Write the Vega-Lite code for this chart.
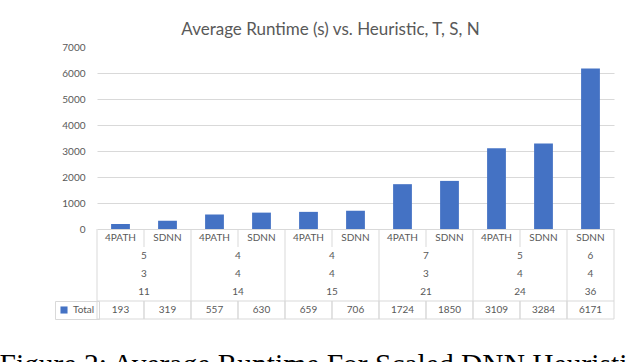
{
  "$schema": "https://vega.github.io/schema/vega-lite/v6.json",
  "width": 517,
  "height": 272,
  "autosize": {"type": "none"},
  "padding": {"left": 97, "top": 47, "right": 14, "bottom": 43},
  "background": "white",
  "title": {"text": "Average Runtime (s) vs. Heuristic, T, S, N", "font": "Lato", "fontSize": 17, "fontWeight": "normal", "color": "#595959", "anchor": "middle", "frame": "group", "dx": -25, "offset": -10, "baseline": "alphabetic"},
  "datasets": {
    "cols": [
      {"col": "c1", "h": "4PATH", "total": 193},
      {"col": "c2", "h": "SDNN", "total": 319},
      {"col": "c3", "h": "4PATH", "total": 557},
      {"col": "c4", "h": "SDNN", "total": 630},
      {"col": "c5", "h": "4PATH", "total": 659},
      {"col": "c6", "h": "SDNN", "total": 706},
      {"col": "c7", "h": "4PATH", "total": 1724},
      {"col": "c8", "h": "SDNN", "total": 1850},
      {"col": "c9", "h": "4PATH", "total": 3109},
      {"col": "c10", "h": "SDNN", "total": 3284},
      {"col": "c11", "h": "SDNN", "total": 6171}
    ],
    "groups": [
      {"first": "c1", "n": 2, "T": "5", "S": "3", "N": "11"},
      {"first": "c3", "n": 2, "T": "4", "S": "4", "N": "14"},
      {"first": "c5", "n": 2, "T": "4", "S": "4", "N": "15"},
      {"first": "c7", "n": 2, "T": "7", "S": "3", "N": "21"},
      {"first": "c9", "n": 2, "T": "5", "S": "4", "N": "24"},
      {"first": "c11", "n": 1, "T": "6", "S": "4", "N": "36"}
    ]
  },
  "resolve": {"scale": {"y": "independent"}},
  "layer": [
    {
      "data": {"name": "cols"},
      "mark": {"type": "bar", "width": {"band": 0.4}, "color": "#4472C4"},
      "encoding": {
        "x": {
          "field": "col", "type": "nominal",
          "scale": {"domain": ["c1","c2","c3","c4","c5","c6","c7","c8","c9","c10","c11"], "paddingInner": 0, "paddingOuter": 0},
          "axis": {"title": "Figure 2: Average Runtime For Scaled DNN Heuristics", "labels": false, "ticks": false, "domain": false, "grid": false,
                   "titleFont": "Liberation Serif", "titleFontSize": 29.5, "titleFontWeight": "normal", "titleColor": "#000000",
                   "titleX": -98, "titleY": 54, "titleAlign": "left", "titleBaseline": "alphabetic"}
        },
        "y": {
          "field": "total", "type": "quantitative",
          "scale": {"domain": [0, 7000], "range": [182, 0], "nice": false, "zero": true},
          "axis": {"title": null, "values": [0, 1000, 2000, 3000, 4000, 5000, 6000, 7000], "format": "d", "domain": false, "ticks": false, "labelPadding": 12,
                   "grid": true, "gridColor": "#d9d9d9", "gridOpacity": {"condition": {"test": "datum.value >= 7000", "value": 0}, "value": 1}}
        },
        "color": {
          "datum": "Total", "type": "nominal",
          "scale": {"range": ["#4472C4"]},
          "legend": {"orient": "none", "legendX": -42, "legendY": 254, "title": null, "strokeColor": "#d9d9d9", "padding": 4,
                     "symbolType": "square", "symbolSize": 50, "symbolStrokeWidth": 0, "labelFont": "Lato", "labelFontSize": 10,
                     "labelColor": "#595959", "labelOffset": 4}
        }
      }
    },
    {
      "layer": [
        {
          "data": {"name": "cols"},
          "mark": {"type": "rect", "fillOpacity": 0, "stroke": "#d9d9d9", "strokeWidth": 1},
          "encoding": {
            "x": {"field": "col", "type": "nominal"},
            "y": {"datum": "Total", "type": "nominal", "scale": {"domain": ["Heuristic","T","S","N","Total"], "range": [182, 272], "paddingInner": 0, "paddingOuter": 0}, "axis": null}
          }
        },
        {
          "data": {"name": "groups"},
          "mark": {"type": "rule", "color": "#d9d9d9", "strokeWidth": 1},
          "encoding": {
            "x": {"field": "first", "type": "nominal", "bandPosition": 0},
            "y": {"datum": "Heuristic", "type": "nominal", "bandPosition": 0, "axis": null},
            "y2": {"datum": "N", "bandPosition": 1}
          }
        },
        {
          "data": {"name": "groups"},
          "transform": [{"filter": "datum.n == 1"}],
          "mark": {"type": "rule", "color": "#d9d9d9", "strokeWidth": 1},
          "encoding": {
            "x": {"field": "first", "type": "nominal", "bandPosition": 1},
            "y": {"datum": "Heuristic", "type": "nominal", "bandPosition": 0, "axis": null},
            "y2": {"datum": "N", "bandPosition": 1}
          }
        },
        {
          "data": {"name": "groups"},
          "transform": [{"filter": "datum.n == 2"}],
          "mark": {"type": "rule", "color": "#d9d9d9", "strokeWidth": 1},
          "encoding": {
            "x": {"field": "first", "type": "nominal", "bandPosition": 1},
            "y": {"datum": "Heuristic", "type": "nominal", "bandPosition": 0, "axis": null},
            "y2": {"datum": "Heuristic", "bandPosition": 1}
          }
        },
        {
          "data": {"name": "cols"},
          "mark": {"type": "text", "font": "Lato", "fontSize": 10, "color": "#595959", "align": "center", "baseline": "middle"},
          "encoding": {
            "x": {"field": "col", "type": "nominal"},
            "y": {"datum": "Heuristic", "type": "nominal", "axis": null},
            "text": {"field": "h", "type": "nominal"}
          }
        },
        {
          "data": {"name": "cols"},
          "mark": {"type": "text", "font": "Lato", "fontSize": 10, "color": "#595959", "align": "center", "baseline": "middle"},
          "encoding": {
            "x": {"field": "col", "type": "nominal"},
            "y": {"datum": "Total", "type": "nominal", "axis": null},
            "text": {"field": "total", "type": "nominal"}
          }
        },
        {
          "data": {"name": "groups"},
          "transform": [{"filter": "datum.n == 2"}, {"fold": ["T", "S", "N"], "as": ["row", "val"]}],
          "mark": {"type": "text", "font": "Lato", "fontSize": 10, "color": "#595959", "align": "center", "baseline": "middle"},
          "encoding": {
            "x": {"field": "first", "type": "nominal", "bandPosition": 1},
            "y": {"field": "row", "type": "nominal", "axis": null},
            "text": {"field": "val", "type": "nominal"}
          }
        },
        {
          "data": {"name": "groups"},
          "transform": [{"filter": "datum.n == 1"}, {"fold": ["T", "S", "N"], "as": ["row", "val"]}],
          "mark": {"type": "text", "font": "Lato", "fontSize": 10, "color": "#595959", "align": "center", "baseline": "middle"},
          "encoding": {
            "x": {"field": "first", "type": "nominal", "bandPosition": 0.5},
            "y": {"field": "row", "type": "nominal", "axis": null},
            "text": {"field": "val", "type": "nominal"}
          }
        }
      ]
    }
  ],
  "config": {
    "view": {"stroke": null},
    "font": "Lato",
    "axis": {"labelFont": "Lato", "labelFontSize": 10, "labelColor": "#595959"}
  }
}
